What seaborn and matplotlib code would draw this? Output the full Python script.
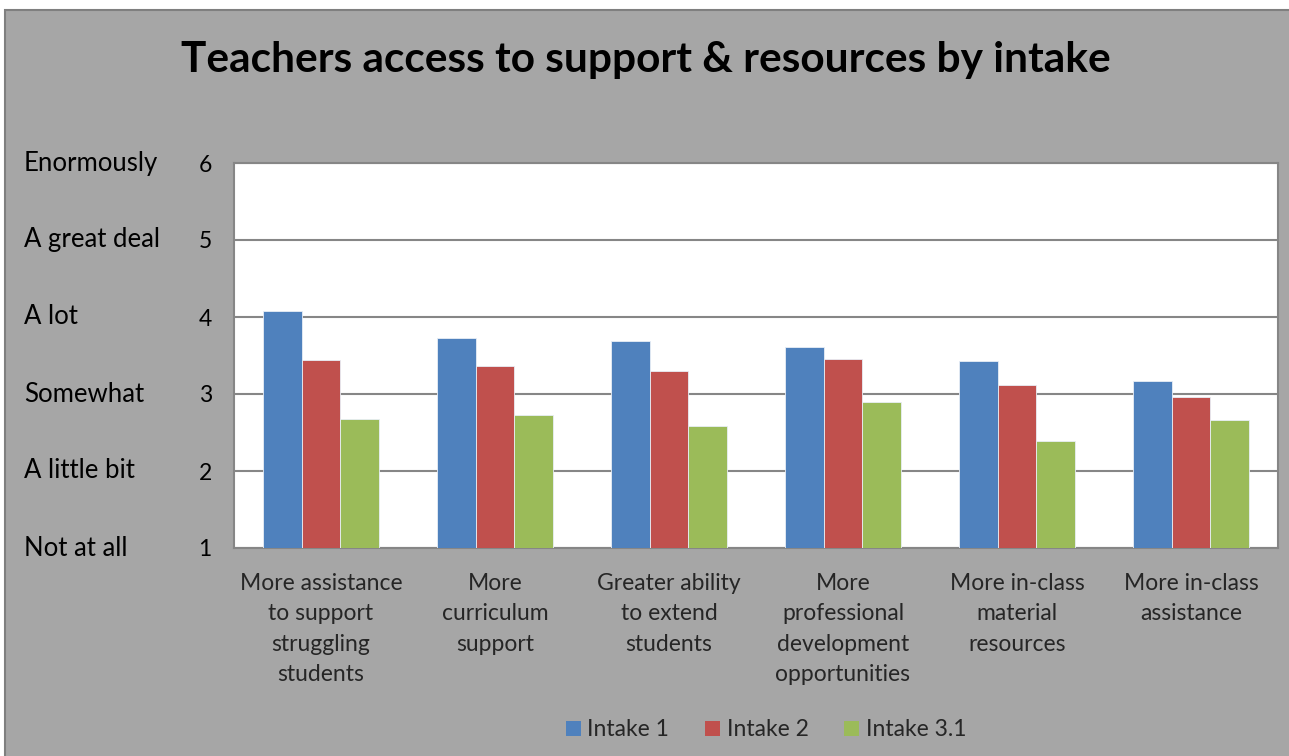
import matplotlib
matplotlib.use("Agg")
import matplotlib.pyplot as plt
import matplotlib.transforms as mtransforms
import seaborn as sns
import pandas as pd
from matplotlib.patches import Rectangle, Patch

# Survey data (scale 1 = Not at all ... 6 = Enormously)
categories = [
    "More assistance\nto support\nstruggling\nstudents",
    "More\ncurriculum\nsupport",
    "Greater ability\nto extend\nstudents",
    "More\nprofessional\ndevelopment\nopportunities",
    "More in-class\nmaterial\nresources",
    "More in-class\nassistance",
]
series_names = ["Intake 1", "Intake 2", "Intake 3.1"]
intake_1 = [4.08, 3.73, 3.69, 3.61, 3.43, 3.17]
intake_2 = [3.44, 3.37, 3.30, 3.45, 3.12, 2.96]
intake_3_1 = [2.67, 2.73, 2.59, 2.89, 2.39, 2.66]
scale_values = [1, 2, 3, 4, 5, 6]
scale_labels = ["Not at all", "A little bit", "Somewhat", "A lot", "A great deal", "Enormously"]

colors = ["#4F81BD", "#C0504D", "#9BBB59"]
BG = "#A6A6A6"
GRID = "#868686"
FS = 16.5

sns.set_theme(style="white")
plt.rcParams["font.family"] = ["Lato", "DejaVu Sans"]

df = pd.DataFrame({
    "category": categories * 3,
    "series": [s for s in series_names for _ in categories],
    "value": intake_1 + intake_2 + intake_3_1,
})
# bars start from the bottom of the scale (1)
df["height"] = df["value"] - 1

W, H = 1289, 756
fig = plt.figure(figsize=(W / 100, H / 100), dpi=100, facecolor="white")
# gray chart area with a thin border
fig.patches.append(Rectangle((5 / W, -0.01), 1.02, 1 - 10 / H + 0.01, transform=fig.transFigure,
                             facecolor=BG, edgecolor="#7F7F7F", linewidth=1.5, zorder=-10))

ax = fig.add_axes([234 / W, 1 - 548 / H, (1278 - 234) / W, (548 - 163) / H])
ax.set_facecolor("white")

sns.barplot(data=df, x="category", y="height", hue="series", palette=colors,
            width=2 / 3, gap=0, saturation=1, edgecolor="#E8EEF6", linewidth=0.6,
            ax=ax, legend=False, zorder=3)

ax.set_ylim(0, 5)
ax.set_yticks([v - 1 for v in scale_values])
ax.set_yticklabels([str(v) for v in scale_values], fontsize=FS)
ax.tick_params(axis="y", pad=16, length=0, colors="black")
ax.tick_params(axis="x", pad=18, length=0, labelsize=FS)
ax.set_xticks(range(len(categories)))
ax.set_xticklabels(categories, linespacing=1.55, va="top", ha="center")
ax.set_xlim(-0.5, len(categories) - 0.5)
ax.yaxis.grid(True, color=GRID, linewidth=1.5, zorder=0)
ax.set_axisbelow(True)
for sp in ax.spines.values():
    sp.set_color(GRID)
    sp.set_linewidth(1.5)
ax.set_xlabel("")
ax.set_ylabel("")

# text scale labels on the left
trans = mtransforms.blended_transform_factory(fig.transFigure, ax.transData)
for v, lab in zip(scale_values, scale_labels):
    ax.text(24 / W, v - 1, lab, transform=trans, fontsize=18.5, ha="left", va="center",
            color="black", clip_on=False)

fig.text(646 / W, 1 - 60 / H, "Teachers access to support & resources by intake",
         fontsize=30.5, fontweight="bold", ha="center", va="center", color="black")

handles = [Patch(facecolor=c, edgecolor="none") for c in colors]
fig.legend(handles, series_names, loc="center", bbox_to_anchor=(766 / W, 1 - 730 / H),
           ncol=3, frameon=False, fontsize=FS, handlelength=0.65, handleheight=0.65,
           handletextpad=0.3, columnspacing=1.55)

fig.savefig("out.png", dpi=100, facecolor=fig.get_facecolor())
